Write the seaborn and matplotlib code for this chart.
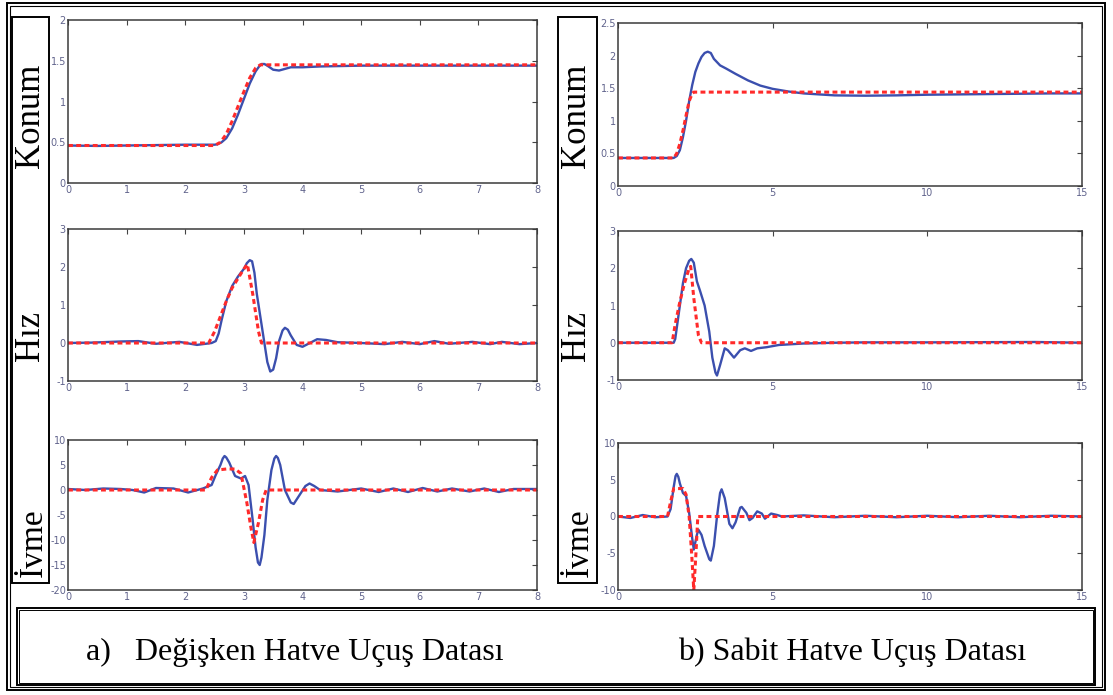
import matplotlib
matplotlib.use("Agg")
import matplotlib.pyplot as plt
import seaborn as sns
from matplotlib.patches import Rectangle

# ---- data ----
# (a) Degisken hatve: konum / hiz / ivme, time 0..8
a_konum_ref_t = [0, 1, 2, 2.5, 2.6, 2.7, 2.8, 2.9, 3.0, 3.1, 3.2, 3.28, 3.35, 4, 5, 6, 7, 8]
a_konum_ref = [0.46, 0.46, 0.46, 0.46, 0.5, 0.6, 0.76, 0.94, 1.12, 1.29, 1.41, 1.45, 1.45, 1.45, 1.45, 1.45, 1.45, 1.45]
a_konum_t = [0, 0.5, 1, 1.5, 2, 2.5, 2.55, 2.62, 2.7, 2.8, 2.9, 3.0, 3.1, 3.2, 3.26, 3.3, 3.35, 3.4, 3.5,
             3.6, 3.7, 3.8, 4.0, 4.3, 5, 6, 7, 8]
a_konum = [0.46, 0.455, 0.46, 0.465, 0.47, 0.47, 0.475, 0.5, 0.55, 0.67, 0.84, 1.03, 1.22, 1.37, 1.43,
           1.46, 1.46, 1.44, 1.39, 1.38, 1.40, 1.42, 1.42, 1.43, 1.44, 1.44, 1.44, 1.44]

a_hiz_ref_t = [0, 1, 2, 2.4, 2.5, 2.6, 2.7, 2.8, 2.9, 3.0, 3.06, 3.15, 3.25, 3.3, 4, 5, 6, 7, 8]
a_hiz_ref = [0, 0, 0, 0, 0.3, 0.7, 1.1, 1.45, 1.7, 1.95, 2.07, 1.3, 0.3, 0, 0, 0, 0, 0, 0]
a_hiz_t = [0, 0.4, 0.9, 1.2, 1.5, 1.9, 2.2, 2.45, 2.52, 2.57, 2.62, 2.7, 2.8, 2.9, 3.0, 3.05, 3.1, 3.14,
           3.18, 3.22, 3.3, 3.4, 3.45, 3.5, 3.55, 3.6, 3.66, 3.7, 3.75, 3.8, 3.9, 4.0, 4.1, 4.25, 4.4,
           4.6, 5.0, 5.4, 5.7, 6.0, 6.25, 6.5, 6.9, 7.2, 7.4, 7.7, 8]
a_hiz = [0, 0.01, 0.04, 0.05, -0.02, 0.03, -0.05, 0.0, 0.05, 0.25, 0.6, 1.1, 1.5, 1.75, 1.95, 2.1,
         2.18, 2.15, 1.85, 1.3, 0.5, -0.5, -0.75, -0.7, -0.4, 0.05, 0.33, 0.4, 0.35, 0.2, -0.05,
         -0.1, -0.02, 0.1, 0.08, 0.02, 0.0, -0.03, 0.03, -0.03, 0.05, -0.02, 0.03, -0.03, 0.03,
         -0.03, 0.0]

a_ivme_ref_t = [0, 1, 2, 2.35, 2.45, 2.55, 2.7, 2.85, 2.95, 3.05, 3.12, 3.17, 3.25, 3.32, 3.38, 4, 5, 6, 7, 8]
a_ivme_ref = [0, 0, 0, 0, 2.5, 4.0, 4.2, 4.2, 3.3, -2.5, -7.5, -10.5, -6.5, -2.0, 0, 0, 0, 0, 0, 0]
a_ivme_t = [0, 0.3, 0.6, 0.9, 1.1, 1.3, 1.5, 1.8, 2.05, 2.3, 2.45, 2.52, 2.6, 2.64, 2.67, 2.7, 2.75,
            2.85, 2.95, 3.02, 3.08, 3.15, 3.2, 3.24, 3.27, 3.3, 3.35, 3.4, 3.47, 3.52, 3.55, 3.58,
            3.62, 3.7, 3.8, 3.85, 3.95, 4.05, 4.12, 4.2, 4.3, 4.6, 5.0, 5.3, 5.55, 5.8, 6.05, 6.3,
            6.55, 6.85, 7.1, 7.35, 7.6, 8]
a_ivme = [0.2, 0.0, 0.3, 0.2, 0.0, -0.5, 0.4, 0.3, -0.5, 0.3, 1.0, 3.0, 5.0, 6.3, 6.8, 6.5, 5.5,
          2.8, 2.3, 2.8, 1.0, -6, -11.5, -14.5, -15, -13.5, -9, -2, 4, 6.3, 6.8, 6.4, 5, 0, -2.5,
          -2.8, -1, 0.8, 1.3, 0.8, 0, -0.3, 0.3, -0.4, 0.3, -0.4, 0.4, -0.3, 0.3, -0.3, 0.3, -0.4,
          0.2, 0.2]

# (b) Sabit hatve: konum / hiz / ivme, time 0..15
b_konum_ref_t = [0, 1, 1.8, 1.9, 2.0, 2.1, 2.2, 2.3, 2.4, 2.45, 3, 5, 10, 15]
b_konum_ref = [0.43, 0.43, 0.43, 0.5, 0.65, 0.85, 1.08, 1.3, 1.42, 1.44, 1.44, 1.44, 1.44, 1.44]
b_konum_t = [0, 1, 1.8, 1.9, 2.0, 2.1, 2.2, 2.3, 2.4, 2.5, 2.6, 2.7, 2.8, 2.9, 3.0, 3.1, 3.3, 3.5,
             3.8, 4.2, 4.6, 5.0, 5.5, 6, 7, 8, 9, 10, 12, 14, 15]
b_konum = [0.43, 0.43, 0.43, 0.46, 0.55, 0.75, 1.0, 1.3, 1.55, 1.75, 1.88, 1.98, 2.04, 2.06, 2.04,
           1.95, 1.85, 1.8, 1.72, 1.62, 1.54, 1.49, 1.45, 1.42, 1.39, 1.385, 1.39, 1.40, 1.41, 1.42,
           1.42]

b_hiz_ref_t = [0, 1, 1.75, 1.85, 2.0, 2.15, 2.3, 2.35, 2.45, 2.6, 2.7, 5, 10, 15]
b_hiz_ref = [0, 0, 0, 0.5, 1.1, 1.6, 2.0, 2.05, 1.2, 0.2, 0, 0, 0, 0]
b_hiz_t = [0, 1, 1.8, 1.85, 1.95, 2.1, 2.2, 2.3, 2.37, 2.45, 2.55, 2.65, 2.8, 2.95, 3.05, 3.15,
           3.2, 3.3, 3.45, 3.55, 3.75, 3.95, 4.1, 4.3, 4.5, 4.8, 5.2, 6, 7, 8, 10, 13.5, 15]
b_hiz = [0, 0, 0, 0.1, 0.7, 1.6, 2.0, 2.2, 2.25, 2.15, 1.65, 1.4, 1.0, 0.3, -0.4, -0.8, -0.88,
         -0.6, -0.15, -0.2, -0.4, -0.2, -0.15, -0.22, -0.15, -0.12, -0.06, -0.02, 0, 0.01, 0.01,
         0.02, 0.0]

b_ivme_ref_t = [0, 1, 1.6, 1.7, 1.8, 2.1, 2.2, 2.3, 2.38, 2.45, 2.52, 2.58, 5, 10, 15]
b_ivme_ref = [0, 0, 0, 2, 3.8, 3.8, 3.0, 0, -5, -10, -5, 0, 0, 0, 0]
b_ivme_t = [0, 0.4, 0.8, 1.2, 1.6, 1.7, 1.8, 1.86, 1.9, 1.95, 2.0, 2.1, 2.2, 2.3, 2.4, 2.45, 2.55,
            2.6, 2.7, 2.8, 2.95, 3.0, 3.1, 3.2, 3.3, 3.35, 3.45, 3.6, 3.7, 3.8, 3.95, 4.0, 4.15,
            4.25, 4.35, 4.5, 4.65, 4.75, 4.95, 5.15, 5.3, 6, 7, 8, 9, 10, 11, 12, 13, 14, 15]
b_ivme = [0, -0.2, 0.2, -0.1, 0, 1, 4, 5.5, 5.8, 5.4, 4.5, 3.2, 2.8, 0.5, -3, -4.5, -2.5, -1.8,
          -2.5, -4, -5.8, -6, -4, 0, 3.2, 3.7, 2.5, -1, -1.6, -0.8, 1.2, 1.3, 0.5, -0.5, -0.2,
          0.7, 0.4, -0.3, 0.4, 0.2, 0, 0.15, -0.1, 0.1, -0.1, 0.1, -0.1, 0.1, -0.1, 0.1, 0.0]

a_xticks = [0, 1, 2, 3, 4, 5, 6, 7, 8]
b_xticks = [0, 5, 10, 15]
konum_a_yticks = [0, 0.5, 1, 1.5, 2]
konum_b_yticks = [0, 0.5, 1, 1.5, 2, 2.5]
hiz_yticks = [-1, 0, 1, 2, 3]
ivme_a_yticks = [-20, -15, -10, -5, 0, 5, 10]
ivme_b_yticks = [-10, -5, 0, 5, 10]

row_labels = ["Konum", "Hız", "İvme"]
captions = ["a)   Değişken Hatve Uçuş Datası", "b) Sabit Hatve Uçuş Datası"]

# ---- drawing ----
sns.set_theme(style="white")
plt.rcParams["font.family"] = ["DejaVu Sans"]

W, H = 1113, 695
fig = plt.figure(figsize=(W / 100, H / 100), dpi=100)

BLUE = "#3b4fae"
RED = "#ff2a2a"
TICKC = "#60638c"


def px_axes(x0, y0, x1, y1):
    return fig.add_axes([x0 / W, 1 - y1 / H, (x1 - x0) / W, (y1 - y0) / H])


def box(x0, y0, x1, y1, lw=1.4):
    fig.add_artist(Rectangle((x0 / W, 1 - y1 / H), (x1 - x0) / W, (y1 - y0) / H,
                             transform=fig.transFigure, fill=False, ec="black", lw=lw))


def panel(ax, tb, yb, tr, yr, xticks, yticks, ylim):
    sns.lineplot(x=tb, y=yb, ax=ax, color=BLUE, lw=1.7, sort=False, estimator=None)
    sns.lineplot(x=tr, y=yr, ax=ax, color=RED, lw=2.2, sort=False, estimator=None,
                 linestyle=(0, (1.6, 1.1)))
    ax.set_xlim(xticks[0], xticks[-1])
    ax.set_ylim(*ylim)
    ax.set_xticks(xticks)
    ax.set_xticklabels([f"{v:g}" for v in xticks])
    ax.set_yticks(yticks)
    ax.set_yticklabels([f"{v:g}" for v in yticks])
    ax.tick_params(direction="in", top=True, right=True, length=3.5, width=0.8,
                   labelsize=7, labelcolor=TICKC, color="#444444", pad=1.5)
    for s in ax.spines.values():
        s.set_color("#3a3a3a")
        s.set_linewidth(1.1)
    ax.set_xlabel("")
    ax.set_ylabel("")


ax = px_axes(68, 20, 537, 183)
panel(ax, a_konum_t, a_konum, a_konum_ref_t, a_konum_ref, a_xticks, konum_a_yticks, (0, 2))
ax = px_axes(68, 229, 537, 381)
panel(ax, a_hiz_t, a_hiz, a_hiz_ref_t, a_hiz_ref, a_xticks, hiz_yticks, (-1, 3))
ax = px_axes(68, 440, 537, 590)
panel(ax, a_ivme_t, a_ivme, a_ivme_ref_t, a_ivme_ref, a_xticks, ivme_a_yticks, (-20, 10))

ax = px_axes(618, 23, 1082, 186)
panel(ax, b_konum_t, b_konum, b_konum_ref_t, b_konum_ref, b_xticks, konum_b_yticks, (0, 2.5))
ax = px_axes(618, 231, 1082, 380)
panel(ax, b_hiz_t, b_hiz, b_hiz_ref_t, b_hiz_ref, b_xticks, hiz_yticks, (-1, 3))
ax = px_axes(618, 443, 1082, 590)
panel(ax, b_ivme_t, b_ivme, b_ivme_ref_t, b_ivme_ref, b_xticks, ivme_b_yticks, (-10, 10))

# frames
box(7, 3, 1105, 690, lw=1.4)
box(10, 6, 1102, 687, lw=0.8)
box(12, 17, 49, 583)
box(558, 17, 597, 583)
box(17, 608, 1095, 685, lw=1.4)
box(19, 610, 1093, 683, lw=0.7)

serif = ["Liberation Serif", "DejaVu Serif"]
for xc in (31, 577):
    for lab, yc, fs, dx in zip(row_labels, (116, 336, 543), (25, 25, 24), (0, 0, 2.5)):
        fig.text((xc + dx) / W, 1 - yc / H, lab, rotation=90, fontsize=fs, family=serif,
                 ha="center", va="center", color="black")

fig.text(86 / W, 1 - 660 / H, captions[0], fontsize=23, family=serif, va="baseline", color="black")
fig.text(678 / W, 1 - 660 / H, captions[1], fontsize=23, family=serif, va="baseline", color="black")

fig.savefig("out.png", dpi=100, facecolor="white")
